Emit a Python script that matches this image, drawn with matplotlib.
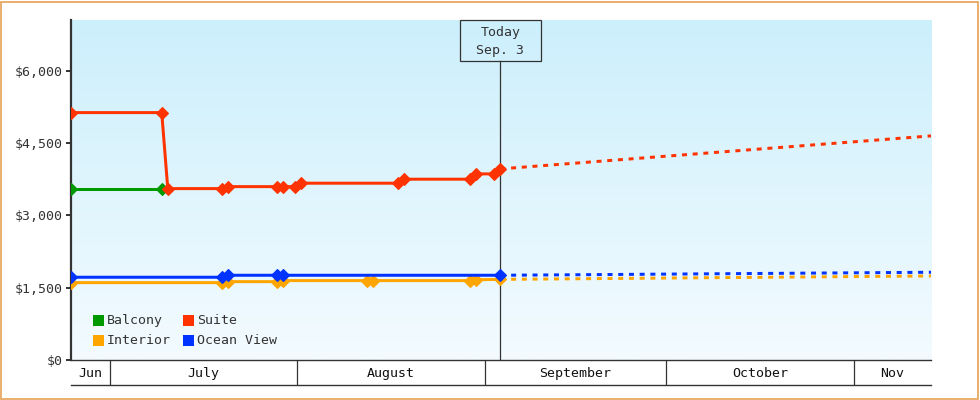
import matplotlib
matplotlib.use("Agg")
import matplotlib.pyplot as plt
import numpy as np
import pandas as pd
import matplotlib.dates as mdates
from matplotlib.patches import Rectangle
from matplotlib.transforms import IdentityTransform

# ---------------- data ----------------
balcony_dates = ["2023-06-24", "2023-07-09"]
balcony_prices = [3554, 3554]

suite_dates = ["2023-06-24", "2023-07-09", "2023-07-10", "2023-07-19", "2023-07-20",
               "2023-07-28", "2023-07-29", "2023-07-31", "2023-08-01", "2023-08-17",
               "2023-08-18", "2023-08-29", "2023-08-30", "2023-09-02", "2023-09-03"]
suite_prices = [5130, 5130, 3554, 3554, 3595, 3595, 3595, 3595, 3666, 3666,
                3749, 3749, 3859, 3859, 3963]

interior_dates = ["2023-06-24", "2023-07-19", "2023-07-20", "2023-07-28", "2023-07-29",
                  "2023-08-12", "2023-08-13", "2023-08-29", "2023-08-30", "2023-09-03"]
interior_prices = [1604, 1604, 1625, 1625, 1646, 1646, 1646, 1646, 1664, 1672]

ocean_dates = ["2023-06-24", "2023-07-19", "2023-07-20", "2023-07-28", "2023-07-29", "2023-09-03"]
ocean_prices = [1716, 1716, 1757, 1757, 1757, 1757]

forecast_dates = ["2023-09-03", "2023-11-13"]
suite_forecast = [3963, 4647]
interior_forecast = [1672, 1743]
ocean_forecast = [1757, 1819]

series_names = ["Balcony", "Suite", "Interior", "Ocean View"]
series_colors = ["#009900", "#ff3300", "#ffa500", "#0033ff"]

month_labels = ["Jun", "July", "August", "September", "October", "Nov"]
month_starts = ["2023-07-01", "2023-08-01", "2023-09-01", "2023-10-01", "2023-11-01"]
today_text = ["Today", "Sep. 3"]
y_ticks = [0, 1500, 3000, 4500, 6000]

# ---------------- helpers ----------------
SNAP = pd.Timedelta(hours=14)


def to_num(dates, shift=SNAP):
    return mdates.date2num(pd.to_datetime(dates) + shift)


FONT = "DejaVu Sans Mono"
FS = 9.5
TXT = "#333333"
W, H = 980, 400

fig = plt.figure(figsize=(W / 100, H / 100), dpi=100)
fig.patch.set_facecolor("white")

ax = fig.add_axes([71 / W, 40 / H, 860 / W, 340 / H])
x_start = to_num(balcony_dates[:1])[0]
x_end = to_num(forecast_dates[-1:], shift=pd.Timedelta(hours=18, minutes=30))[0]

# gradient background
grad = np.linspace(0, 1, 256)[:, None]
top = np.array([0xcc, 0xef, 0xfc]) / 255
bot = np.array([0xf3, 0xfb, 0xff]) / 255
img = top[None, None, :] * (1 - grad[:, :, None]) + bot[None, None, :] * grad[:, :, None]
ax.imshow(img, extent=[0, 1, 0, 1], transform=ax.transAxes, aspect="auto", zorder=0)
ax.set_xlim(x_start, x_end)
ax.set_ylim(0, 7050)

lw = 2.16
mk = dict(marker="D", ms=6.0, markeredgewidth=0.8)
cmap = dict(zip(series_names, series_colors))

ax.plot(to_num(balcony_dates), balcony_prices, color=cmap["Balcony"], lw=lw, zorder=3, **mk)
ax.plot(to_num(interior_dates), interior_prices, color=cmap["Interior"], lw=lw, zorder=3, **mk)
ax.plot(to_num(ocean_dates), ocean_prices, color=cmap["Ocean View"], lw=lw, zorder=4, **mk)
ax.plot(to_num(suite_dates), suite_prices, color=cmap["Suite"], lw=lw, zorder=4, **mk)

fx = [to_num(forecast_dates[:1])[0], x_end]
dash = (0, (1.67, 1.9))
for vals, name in [(interior_forecast, "Interior"), (ocean_forecast, "Ocean View"),
                   (suite_forecast, "Suite")]:
    ax.plot(fx, vals, color=cmap[name], lw=lw, linestyle=dash, zorder=3)

# axes styling
for s in ["top", "right"]:
    ax.spines[s].set_visible(False)
ax.spines["left"].set_linewidth(1.6)
ax.spines["left"].set_color(TXT)
ax.spines["bottom"].set_linewidth(1.0)
ax.spines["bottom"].set_color(TXT)
ax.set_xticks([])
ax.set_yticks(y_ticks)
ax.set_yticklabels([f"${v:,}" for v in y_ticks], fontfamily=FONT, fontsize=FS, color=TXT)
ax.tick_params(axis="y", length=3.6, width=1.4, color=TXT, pad=2)

# today marker
today = to_num(forecast_dates[:1])[0]
ax.axvline(today, ymin=0, ymax=(360 - 60.7) / 340, color=TXT, lw=0.9, zorder=2)
fig.canvas.draw()
tx = ax.transData.transform((today, 0))[0]
box = Rectangle((tx - 40.3, H - 60.7), 80.6, 40.7, transform=IdentityTransform(),
                fill=False, ec=TXT, lw=0.9)
fig.add_artist(box)
fig.text(tx / W, 1 - 32.5 / H, today_text[0], ha="center", va="center",
         fontfamily=FONT, fontsize=FS, color=TXT)
fig.text(tx / W, 1 - 50.5 / H, today_text[1], ha="center", va="center",
         fontfamily=FONT, fontsize=FS, color=TXT)

# month band
bax = fig.add_axes([71 / W, 15 / H, 860 / W, 25 / H])
bax.set_xlim(x_start, x_end)
bax.set_ylim(0, 1)
bax.patch.set_alpha(0)
for s in ["top", "right", "left"]:
    bax.spines[s].set_visible(False)
bax.spines["bottom"].set_color(TXT)
bax.spines["bottom"].set_linewidth(1.0)
bax.set_xticks([])
bax.set_yticks([])
ms_num = list(to_num(month_starts, shift=pd.Timedelta(0)))
bounds = [x_start] + ms_num + [x_end]
for b in ms_num:
    bax.axvline(b, color=TXT, lw=0.9)
for i, lab in enumerate(month_labels):
    bax.text((bounds[i] + bounds[i + 1]) / 2, 0.46, lab, ha="center", va="center",
             fontfamily=FONT, fontsize=FS, color="#111111")

# legend (manual)
leg = [("Balcony", 93, 315), ("Suite", 183.3, 315), ("Interior", 93, 335), ("Ocean View", 183.3, 335)]
for name, lx, ly in leg:
    fig.add_artist(Rectangle((lx / W, 1 - (ly + 11) / H), 11 / W, 11 / H,
                             transform=fig.transFigure, fc=cmap[name], ec="none"))
    fig.text((lx + 13.5) / W, 1 - (ly + 5.5) / H, name, ha="left", va="center",
             fontfamily=FONT, fontsize=FS, color=TXT)

# outer border
fig.add_artist(Rectangle((0.6 / W, 0.6 / H), (W - 2.2) / W, (H - 2.2) / H,
                         transform=fig.transFigure, fill=False, ec="#e8a862", lw=1.3))

fig.savefig("out.png", dpi=100)
